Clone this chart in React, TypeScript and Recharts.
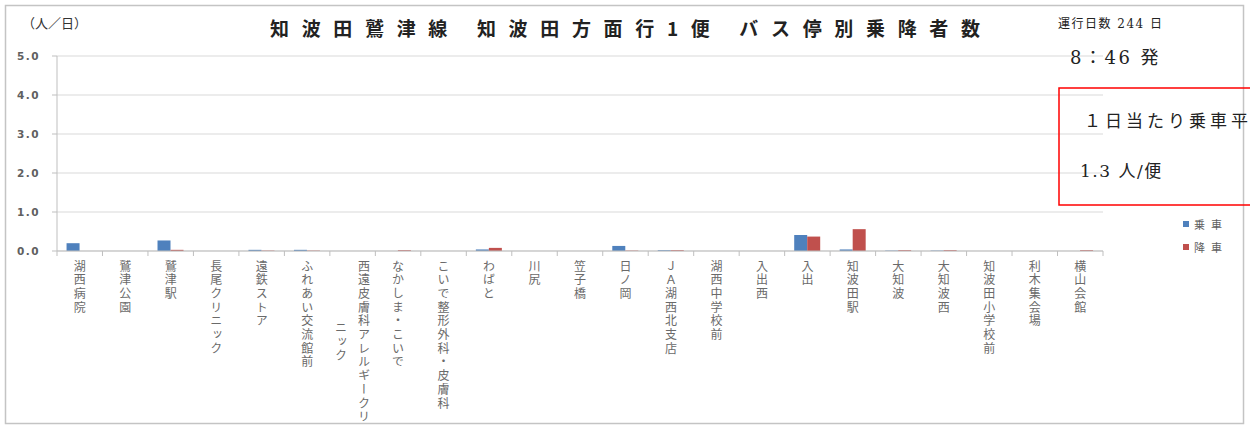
import React from 'react';
import { BarChart, Bar, XAxis, YAxis, CartesianGrid, Legend } from 'recharts';

const categories = [
  '湖西病院', '鷲津公園', '鷲津駅', '長尾クリニック', '遠鉄ストア', 'ふれあい交流館前',
  '西遠皮膚科アレルギークリ\nニック', 'なかしま・こいで', 'こいで整形外科・皮膚科', 'わばと', '川尻', '笠子橋',
  '日ノ岡', 'ＪＡ湖西北支店', '湖西中学校前', '入出西', '入出', '知波田駅', '大知波', '大知波西',
  '知波田小学校前', '利木集会場', '横山会館',
];
const boarding = [0.2, 0, 0.27, 0, 0.03, 0.03, 0, 0, 0, 0.04, 0, 0, 0.13, 0.02, 0, 0, 0.41, 0.04, 0.01, 0.01, 0, 0, 0];
const alighting = [0, 0, 0.03, 0, 0.01, 0.01, 0, 0.02, 0, 0.08, 0, 0, 0.01, 0.02, 0, 0, 0.37, 0.56, 0.02, 0.02, 0, 0, 0.02];
const seriesNames = ['乗車', '降車'];
const seriesColors = ['#4f81bd', '#c0504d'];
const yTicks = [0, 1, 2, 3, 4, 5];

const titleText = '知波田鷲津線 知波田方面行1便 バス停別乗降者数';
const unitText = '（人／日）';
const daysText = '運行日数 244 日';
const departText = '8：46 発';
const boxLine1 = '１日当たり乗車平均';
const boxLine2 = '1.3 人/便';

const W = 1250;
const H = 426;
const PLOT_LEFT = 57;
const PLOT_RIGHT = 1103;
const PLOT_TOP = 56;
const PLOT_BOTTOM = 251;
const BAND = (PLOT_RIGHT - PLOT_LEFT) / categories.length;

const data = categories.map((c, i) => ({ name: c, boarding: boarding[i], alighting: alighting[i] }));

const JP = '"Noto Sans CJK JP", "Noto Sans", sans-serif';
const SERIF = '"DejaVu Serif", "Liberation Serif", "Noto Sans CJK JP", serif';

const XTick = (props: any) => {
  const { x, y, payload, index } = props;
  const cols: string[] = String(payload.value).split('\n');
  const fs = 12;
  const pitch = 13.7;
  const colGap = 23;
  const maxLen = Math.max(...cols.map((c) => Array.from(c).length));
  const n = cols.length;
  const isLast = index === categories.length - 1;
  return (
    <g>
      <line x1={x - BAND / 2} x2={x - BAND / 2} y1={y} y2={y + 5} stroke="#bfbfbf" />
      {isLast ? <line x1={x + BAND / 2} x2={x + BAND / 2} y1={y} y2={y + 5} stroke="#bfbfbf" /> : null}
      {cols.map((col, ci) => {
        const cx = x + ((n - 1) / 2 - ci) * colGap;
        const len = Array.from(col).length;
        const start = ((maxLen - len) / 2) * pitch;
        return (
          <text
            key={ci}
            x={cx}
            y={y + 9 + start}
            textAnchor="start"
            fontSize={fs}
            fontFamily={JP}
            fill="#6a6a6a"
            letterSpacing={pitch - fs}
            style={{ writingMode: 'vertical-rl' as any }}
          >
            {col}
          </text>
        );
      })}
    </g>
  );
};

const LegendContent = () => (
  <div style={{ fontFamily: JP, fontSize: 11, color: '#606060' }}>
    {seriesNames.map((n, i) => (
      <div key={n} style={{ display: 'flex', alignItems: 'center', height: 23 }}>
        <span style={{ display: 'inline-block', width: 6, height: 6, background: seriesColors[i], marginRight: 5 }} />
        <span style={{ letterSpacing: 6 }}>{n}</span>
      </div>
    ))}
  </div>
);

export default function App() {
  return (
    <div style={{ position: 'absolute', left: 0, top: 0, width: W, height: H, overflow: 'hidden', background: '#fff' }}>
      <BarChart
        width={W}
        height={H}
        data={data}
        margin={{ top: PLOT_TOP, right: W - PLOT_RIGHT, bottom: 5, left: 0 }}
        barCategoryGap="21%"
        barGap={0}
      >
        <rect x={5.5} y={5.5} width={1238} height={418} fill="none" stroke="#c4c4c4" strokeWidth={1.5} />
        <CartesianGrid vertical={false} stroke="#d9d9d9" />
        <XAxis
          dataKey="name"
          interval={0}
          height={H - PLOT_BOTTOM - 5}
          tickLine={false}
          tickSize={0}
          tickMargin={0}
          axisLine={{ stroke: '#bfbfbf' }}
          tick={<XTick />}
        />
        <YAxis
          width={PLOT_LEFT}
          domain={[0, 5]}
          ticks={yTicks}
          interval={0}
          tickFormatter={(v: number) => v.toFixed(1)}
          tickSize={5}
          tickMargin={12}
          axisLine={{ stroke: '#bfbfbf' }}
          tickLine={{ stroke: '#bfbfbf' }}
          tick={{ fontSize: 10.5, fill: '#606060', fontWeight: 700, fontFamily: '"DejaVu Sans", sans-serif', letterSpacing: 1.5 }}
        />
        <Bar dataKey="boarding" name={seriesNames[0]} fill={seriesColors[0]} isAnimationActive={false} />
        <Bar dataKey="alighting" name={seriesNames[1]} fill={seriesColors[1]} isAnimationActive={false} />
        <Legend
          layout="vertical"
          align="center"
          verticalAlign="middle"
          content={<LegendContent />}
          wrapperStyle={{ position: 'absolute', left: 1183, top: 212, width: 60, bottom: 'auto', right: 'auto', margin: 0 }}
        />
        <text x={270} y={35.5} textLength={710} lengthAdjust="spacing" fontSize={19} fontWeight={700} fontFamily={JP} fill="#222">
          {titleText}
        </text>
        <text x={22} y={27.5} fontSize={13} fontFamily={SERIF} fill="#333">{unitText}</text>
        <text x={1058} y={28} fontSize={12} letterSpacing={1.5} fontFamily={SERIF} fill="#222">{daysText}</text>
        <text x={1070} y={64} fontSize={18} letterSpacing={2.5} fontFamily={SERIF} fill="#222">{departText}</text>
        <rect x={1059} y={88} width={260} height={117} fill="none" stroke="#ff0000" strokeWidth={1.5} />
        <text x={1084} y={127} fontSize={17} letterSpacing={4} fontFamily={SERIF} fill="#222">{boxLine1}</text>
        <text x={1080} y={177} fontSize={17} letterSpacing={1.5} fontFamily={SERIF} fill="#222">{boxLine2}</text>
      </BarChart>
    </div>
  );
}
